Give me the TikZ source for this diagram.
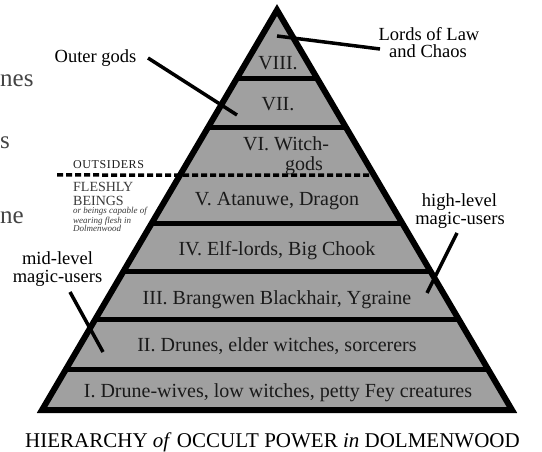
\documentclass[tikz,border=0pt]{standalone}
\usepackage{fontspec}
\setmainfont{Liberation Serif}
\usetikzlibrary{calc}
\definecolor{pgray}{HTML}{A0A0A0}
\definecolor{tiertext}{HTML}{1A1A1A}
\definecolor{fleshc}{HTML}{3A3A3A}
\definecolor{fragc}{HTML}{444444}
\newcommand{\fsz}[2]{\fontsize{#1}{#2}\selectfont}
\begin{document}
\begin{tikzpicture}[x=1pt,y=-1pt,
  pyr/.style={draw=black, line width=6pt, fill=pgray, line join=miter},
  sepline/.style={draw=black, line width=5pt},
  dashline/.style={draw=black, line width=3.5pt, dash pattern=on 6pt off 3pt},
  lblline/.style={draw=black, line width=3.5pt},
  tier/.style={anchor=base, inner sep=0pt, text=tiertext, font=\fsz{20}{22}},
  side/.style={anchor=base, inner sep=0pt, font=\fsz{18.5}{20}},
  small/.style={anchor=base west, inner sep=0pt},
  frag/.style={anchor=base west, inner sep=0pt, text=fragc, font=\fsz{25}{27}},
]
\useasboundingbox (0,0) rectangle (542,452);
% pyramid
\coordinate (A) at (277,10);
\coordinate (BL) at (42,410);
\coordinate (BR) at (512,410);
\draw[pyr] (A) -- (BL) -- (BR) -- cycle;
\foreach \t in {0.1725,0.295,0.5325,0.655,0.775,0.8975}{
  \draw[sepline] ($(A)!\t!(BL)$) -- ($(A)!\t!(BR)$);
}
\coordinate (dl) at (57,175);
\coordinate (dr) at ($(A)!0.4125!(BR)$);
\draw[dashline] (dl) -- (dr);
% tier labels
\node[tier] (t8) at (278,70) {VIII.};
\node[tier] (t7) at (278,111) {VII.};
\node[tier] (t6a) at (286,150) {VI. Witch-};
\node[tier] (t6b) at (304,171) {gods};
\node[tier] (t5) at (277,205) {V. Atanuwe, Dragon};
\node[tier] (t4) at (277,255) {IV. Elf-lords, Big Chook};
\node[tier] (t3) at (277,305) {III. Brangwen Blackhair, Ygraine};
\node[tier] (t2) at (277,351) {II. Drunes, elder witches, sorcerers};
\node[tier] (t1) at (278,397) {I. Drune-wives, low witches, petty Fey creatures};
% side labels
\node[side] (outer) at (95.5,63) {Outer gods};
\coordinate (og1) at (148,58);
\coordinate (og2) at (237,115);
\draw[lblline] (og1) -- (og2);
\node[side] (lords1) at (429,40.5) {Lords of Law};
\node[side] (lords2) at (428,58) {and Chaos};
\coordinate (ll1) at (277,36);
\coordinate (ll2) at (380,49);
\draw[lblline] (ll1) -- (ll2);
\node[side] (high1) at (459.5,207) {high-level};
\node[side] (high2) at (460,225) {magic-users};
\coordinate (hl1) at (457,233);
\coordinate (hl2) at (427,293);
\draw[lblline] (hl1) -- (hl2);
\node[side] (mid1) at (57.5,265) {mid-level};
\node[side] (mid2) at (57.5,283) {magic-users};
\coordinate (ml1) at (70,292);
\coordinate (ml2) at (103,352);
\draw[lblline] (ml1) -- (ml2);
% outsiders / fleshly
\node[small, text=tiertext, font=\fsz{12}{13}\addfontfeature{LetterSpace=5}] (outs) at (73,169) {OUTSIDERS};
\node[small, text=fleshc, font=\fsz{14}{15}] (fl1) at (73,192) {FLESHLY};
\node[small, text=fleshc, font=\fsz{14}{15}] (fl2) at (73,205) {BEINGS};
\node[small, text=fleshc, font=\fsz{9}{9}\itshape] (it1) at (73,214) {or beings capable of};
\node[small, text=fleshc, font=\fsz{9}{9}\itshape] (it2) at (73,223) {wearing flesh in};
\node[small, text=fleshc, font=\fsz{9}{9}\itshape] (it3) at (73,232) {Dolmenwood};
% fragments of page text
\node[frag] (f1) at (0,87) {nes};
\node[frag] (f2) at (0,149) {s};
\node[frag] (f3) at (0,223) {ne};
% caption
\node[anchor=base, inner sep=0pt, font=\fsz{21}{23}] (cap) at (272.5,447) {HIERARCHY \textit{of} OCCULT POWER \textit{in} DOLMENWOOD};
\end{tikzpicture}
\end{document}
